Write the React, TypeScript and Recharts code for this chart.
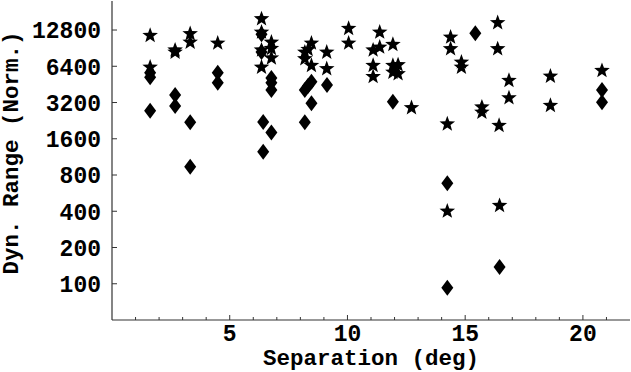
import React from "react";
import { ScatterChart, Scatter, XAxis, YAxis, Label } from "recharts";

const starSeparation = [
  1.62, 1.62, 2.68, 2.68, 3.32, 3.32, 4.49,
  6.35, 6.35, 6.35, 6.35, 6.77, 6.77, 6.77,
  8.19, 8.19, 8.47, 8.47, 8.33, 9.12, 9.12,
  10.05, 10.05, 11.09, 11.09, 11.09, 11.37, 11.37,
  11.93, 11.93, 11.93, 12.15, 12.15, 12.72,
  14.24, 14.24, 14.38, 14.38, 14.84, 14.84,
  15.71, 15.71, 16.38, 16.38, 16.44, 16.46,
  16.86, 16.86, 18.62, 18.62, 20.81,
];
const starRange = [
  11630, 6340, 8800, 8450, 12020, 10230, 10050,
  16010, 12390, 8800, 6340, 10230, 9070, 7570,
  8450, 7450, 10050, 6550, 8900, 8450, 6160,
  13300, 10050, 8800, 6550, 5300, 12390, 9300,
  9790, 6550, 5760, 6640, 5590, 2920,
  2140, 404, 11260, 9020, 6980, 6340,
  2960, 2680, 14840, 9020, 2080, 450,
  4920, 3530, 5340, 3050, 5950,
];

const diamondSeparation = [
  1.62, 1.62, 1.62, 2.68, 2.68, 3.32, 3.32, 4.49, 4.49,
  6.35, 6.35, 6.42, 6.42, 6.77, 6.77, 6.77, 6.77,
  8.19, 8.19, 8.33, 8.47, 8.47, 9.13, 11.93,
  14.24, 14.24, 15.43, 16.46, 20.81, 20.81,
];
const diamondRange = [
  5650, 5180, 2730, 3690, 2990, 2190, 938, 5650, 4670,
  11800, 8420, 2210, 1250, 5110, 4670, 4060, 1800,
  4060, 2190, 4400, 4760, 3150, 4470, 3250,
  682, 92.5, 12020, 138, 4060, 3210,
];

const xMajorTicks = [5, 10, 15, 20];
const xAllTicks = [1, 2, 3, 4, 5, 6, 7, 8, 9, 10, 11, 12, 13, 14, 15, 16, 17, 18, 19, 20, 21];
const yTicks = [100, 200, 400, 800, 1600, 3200, 6400, 12800];

const stars = starSeparation.map((x, i) => ({ x, y: starRange[i] }));
const diamonds = diamondSeparation.map((x, i) => ({ x, y: diamondRange[i] }));

const FONT = "'Liberation Mono', 'DejaVu Sans Mono', monospace";
const INK = "#000";
const AX = "#333";

const StarShape = (props: any) => {
  const { cx, cy } = props;
  const R = 8.2;
  const r = 3.4;
  const pts: string[] = [];
  for (let i = 0; i < 10; i++) {
    const ang = -Math.PI / 2 + (i * Math.PI) / 5;
    const rad = i % 2 === 0 ? R : r;
    pts.push(`${cx + rad * Math.cos(ang)},${cy + 0.5 + rad * Math.sin(ang)}`);
  }
  return <polygon points={pts.join(" ")} fill={INK} />;
};

const DiamondShape = (props: any) => {
  const { cx, cy } = props;
  const w = 6;
  const h = 8;
  return (
    <polygon
      points={`${cx},${cy - h} ${cx + w},${cy} ${cx},${cy + h} ${cx - w},${cy}`}
      fill={INK}
    />
  );
};

const BottomTick = (props: any) => {
  const { x, y, payload } = props;
  const major = xMajorTicks.includes(payload.value);
  return (
    <g>
      <line x1={x} x2={x} y1={y} y2={y - (major ? 5 : 3)} stroke={AX} strokeWidth={1} />
      {major && (
        <text x={x} y={y + 21} textAnchor="middle" fontFamily={FONT} fontWeight="bold" fontSize={23} fill={INK}>
          {payload.value}
        </text>
      )}
    </g>
  );
};

const TopTick = (props: any) => {
  const { x, y, payload } = props;
  const major = xMajorTicks.includes(payload.value);
  return <line x1={x} x2={x} y1={y} y2={y + (major ? 5 : 3)} stroke={AX} strokeWidth={1} />;
};

const LeftTick = (props: any) => {
  const { x, y, payload } = props;
  return (
    <g>
      <line x1={x} x2={x + 5} y1={y} y2={y} stroke={AX} strokeWidth={1} />
      <text x={x - 11} y={y} dy="0.36em" textAnchor="end" fontFamily={FONT} fontWeight="bold" fontSize={23} fill={INK}>
        {payload.value}
      </text>
    </g>
  );
};

const RightTick = (props: any) => {
  const { x, y } = props;
  return <line x1={x} x2={x - 5} y1={y} y2={y} stroke={AX} strokeWidth={1} />;
};

export default function App() {
  return (
    <div style={{ position: "absolute", left: 0, top: 0, width: 631, height: 372, background: "#fff" }}>
      <ScatterChart width={631} height={372} margin={{ top: 1, right: 1, bottom: 0, left: 0 }}>
        <XAxis
          xAxisId="b"
          dataKey="x"
          type="number"
          domain={[0, 22]}
          allowDataOverflow
          ticks={xAllTicks}
          interval={0}
          tickSize={0}
          tickMargin={0}
          tickLine={false}
          tick={<BottomTick />}
          height={52}
          axisLine={{ stroke: AX, strokeWidth: 1.2 }}
        >
          <Label
            content={() => (
              <text x={371} y={365} textAnchor="middle" fontFamily={FONT} fontWeight="bold" fontSize={22.5} fill={INK}>
                Separation (deg)
              </text>
            )}
          />
        </XAxis>
        <XAxis
          xAxisId="t"
          orientation="top"
          type="number"
          domain={[0, 22]}
          allowDataOverflow
          ticks={xAllTicks}
          interval={0}
          tickSize={0}
          tickMargin={0}
          tickLine={false}
          tick={<TopTick />}
          height={0}
          axisLine={{ stroke: AX, strokeWidth: 1.2 }}
        />
        <YAxis
          yAxisId="l"
          dataKey="y"
          type="number"
          scale="log"
          domain={[50, 22300]}
          allowDataOverflow
          ticks={yTicks}
          interval={0}
          tickSize={0}
          tickMargin={0}
          tickLine={false}
          tick={<LeftTick />}
          width={112}
          axisLine={{ stroke: AX, strokeWidth: 1.2 }}
        >
          <Label
            content={() => (
              <text
                x={18}
                y={153}
                transform="rotate(-90, 18, 153)"
                textAnchor="middle"
                fontFamily={FONT}
                fontWeight="bold"
                fontSize={22.5}
                fill={INK}
              >
                Dyn. Range (Norm.)
              </text>
            )}
          />
        </YAxis>
        <YAxis
          yAxisId="r"
          orientation="right"
          type="number"
          scale="log"
          domain={[50, 22300]}
          allowDataOverflow
          ticks={yTicks}
          interval={0}
          tickSize={0}
          tickMargin={0}
          tickLine={false}
          tick={<RightTick />}
          width={0}
          axisLine={{ stroke: AX, strokeWidth: 1.2 }}
        />
        <Scatter
          data={diamonds}
          xAxisId="b"
          yAxisId="l"
          shape={<DiamondShape />}
          isAnimationActive={false}
        />
        <Scatter
          data={stars}
          xAxisId="b"
          yAxisId="l"
          shape={<StarShape />}
          isAnimationActive={false}
        />
      </ScatterChart>
    </div>
  );
}
